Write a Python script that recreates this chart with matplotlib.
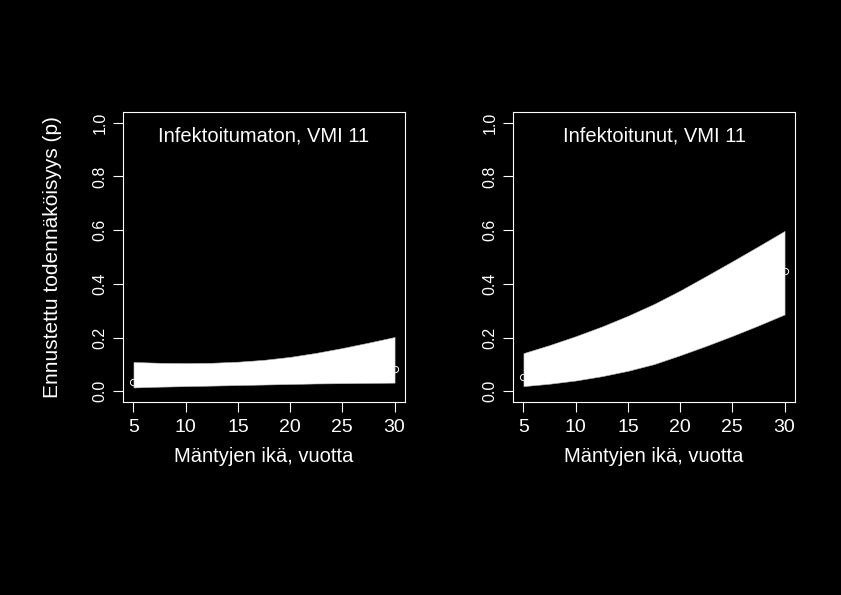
import numpy as np
import matplotlib
matplotlib.use('Agg')
import matplotlib.pyplot as plt

plt.rcParams['font.family'] = ['Liberation Sans', 'DejaVu Sans']

# Ennustetut todennäköisyydet (luottamusvälit) männyn iän mukaan
ika = [5, 7.5, 10, 12.5, 15, 17.5, 20, 22.5, 25, 27.5, 30]

# Infektoitumaton, VMI 11
ala_inf0 = [0.014, 0.017, 0.019, 0.021, 0.023, 0.025, 0.027, 0.029, 0.030, 0.031, 0.032]
yla_inf0 = [0.109, 0.106, 0.105, 0.106, 0.110, 0.117, 0.128, 0.143, 0.161, 0.181, 0.202]
pisteet_x0 = [5, 30]
pisteet_y0 = [0.035, 0.084]

# Infektoitunut, VMI 11
ala_inf1 = [0.019, 0.028, 0.040, 0.056, 0.076, 0.101, 0.134, 0.169, 0.206, 0.245, 0.286]
yla_inf1 = [0.142, 0.172, 0.205, 0.241, 0.281, 0.325, 0.375, 0.429, 0.484, 0.540, 0.597]
pisteet_x1 = [5, 30]
pisteet_y1 = [0.053, 0.447]

otsikot = ['Infektoitumaton, VMI 11', 'Infektoitunut, VMI 11']
xticks = [5, 10, 15, 20, 25, 30]
yticks = [0.0, 0.2, 0.4, 0.6, 0.8, 1.0]

fig = plt.figure(figsize=(8.41, 5.95), dpi=100, facecolor='black')
ax1 = fig.add_axes([0.1463, 0.3244, 0.3353, 0.4874])
ax2 = fig.add_axes([0.6100, 0.3244, 0.3353, 0.4874])

paneelit = [
    (ax1, ala_inf0, yla_inf0, pisteet_x0, pisteet_y0, otsikot[0]),
    (ax2, ala_inf1, yla_inf1, pisteet_x1, pisteet_y1, otsikot[1]),
]

for i, (ax, ala, yla, px, py, otsikko) in enumerate(paneelit):
    ax.set_facecolor('black')
    ax.plot(px, py, 'o', mfc='none', mec='white', ms=4.5, mew=0.7, zorder=1)
    ax.fill_between(ika, ala, yla, facecolor='white', edgecolor='#bbbbbb',
                    linewidth=0.4, zorder=2)
    ax.set_xlim(4, 31)
    ax.set_ylim(-0.04, 1.04)
    ax.set_xticks(xticks)
    ax.set_yticks(yticks)
    ax.set_yticklabels(['%.1f' % v for v in yticks], rotation=90, va='center')
    ax.tick_params(axis='x', colors='white', labelsize=14, length=7, width=0.8, pad=5)
    ax.tick_params(axis='y', colors='white', labelsize=11.5, length=7, width=0.8, pad=4)
    for s in ax.spines.values():
        s.set_color('white')
        s.set_linewidth(0.8)
    ax.text(17.5, 0.952, otsikko, color='white', fontsize=14.5,
            ha='center', va='center')
    ax.set_xlabel('Mäntyjen ikä, vuotta', color='white', fontsize=14.5, labelpad=8)

ax1.set_ylabel('Ennustettu todennäköisyys (p)', color='white', fontsize=15, labelpad=22)

fig.savefig('out.png', dpi=100, facecolor='black')
